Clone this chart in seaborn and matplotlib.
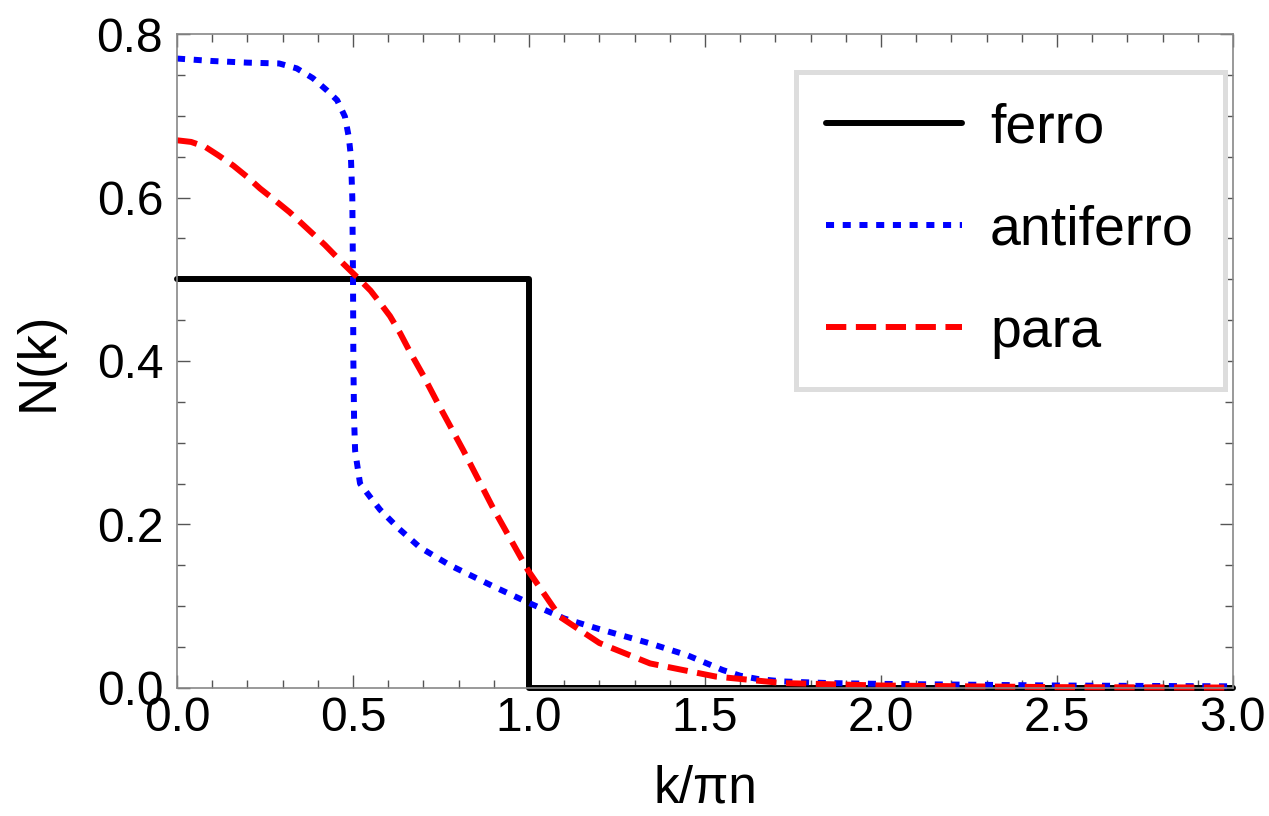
import numpy as np
import pandas as pd
import matplotlib
matplotlib.use("Agg")
import matplotlib.pyplot as plt
from matplotlib.ticker import MultipleLocator, FormatStrFormatter
from matplotlib.lines import Line2D
import seaborn as sns

# ---- data ----
ferro_k = [0.0, 1.0, 1.0, 3.0]
ferro_n = [0.5, 0.5, 0.0, 0.0]

anti_k = [0.0, 0.1, 0.2, 0.29, 0.34, 0.386, 0.426, 0.455, 0.477, 0.488, 0.494, 0.498,
          0.5, 0.501, 0.503, 0.506, 0.52, 0.548, 0.577, 0.63, 0.69, 0.776, 0.9, 1.0,
          1.1, 1.2, 1.34, 1.45, 1.5, 1.55, 1.6, 1.65, 1.72, 1.85, 2.0, 2.5, 3.0]
anti_n = [0.770, 0.767, 0.765, 0.764, 0.758, 0.746, 0.731, 0.719, 0.699, 0.674, 0.650, 0.600,
          0.500, 0.400, 0.330, 0.290, 0.250, 0.234, 0.218, 0.195, 0.172, 0.150, 0.124, 0.104,
          0.085, 0.072, 0.055, 0.040, 0.031, 0.022, 0.015, 0.011, 0.008, 0.006, 0.005, 0.003, 0.002]

para_k = [0.0, 0.04, 0.08, 0.116, 0.16, 0.2, 0.236, 0.28, 0.32, 0.36, 0.42, 0.47, 0.52, 0.55,
          0.577, 0.605, 0.634, 0.662, 0.70, 0.74, 0.813, 0.898, 0.997, 1.088, 1.2, 1.344,
          1.53, 1.72, 2.0, 2.5, 3.0]
para_n = [0.670, 0.668, 0.662, 0.652, 0.639, 0.625, 0.611, 0.596, 0.582, 0.566, 0.542, 0.520,
          0.499, 0.486, 0.471, 0.455, 0.434, 0.411, 0.382, 0.349, 0.291, 0.220, 0.144, 0.087,
          0.055, 0.030, 0.014, 0.006, 0.003, 0.001, 0.0005]

labels = ["ferro", "antiferro", "para"]
xticks = [0.0, 0.5, 1.0, 1.5, 2.0, 2.5, 3.0]
yticks = [0.0, 0.2, 0.4, 0.6, 0.8]

sns.set_style("white")
plt.rcParams['font.family'] = ['Liberation Sans', 'DejaVu Sans']
plt.rcParams['text.color'] = 'black'
plt.rcParams['axes.labelcolor'] = 'black'
plt.rcParams['xtick.color'] = 'black'
plt.rcParams['ytick.color'] = 'black'

fig = plt.figure(figsize=(12.69, 8.16), dpi=100)
ax = fig.add_axes([0.1395, 0.1569, 0.9716 - 0.1395, 0.9583 - 0.1569])

lw = 4.3
dash_blue = (1.35, 1.45)
dash_red = (3.4, 1.6)
sns.lineplot(x=ferro_k, y=ferro_n, ax=ax, color="black", lw=lw, sort=False,
             estimator=None, clip_on=False)
sns.lineplot(x=anti_k, y=anti_n, ax=ax, color="#0000ff", lw=lw, sort=False,
             estimator=None, clip_on=False)
ax.lines[-1].set_dashes(dash_blue)
ax.lines[-1].set_dash_capstyle('butt')
sns.lineplot(x=para_k, y=para_n, ax=ax, color="#ff0000", lw=lw, sort=False,
             estimator=None, clip_on=False)
ax.lines[-1].set_dashes(dash_red)
ax.lines[-1].set_dash_capstyle('butt')

ax.set_xlim(0, 3)
ax.set_ylim(0, 0.8)
ax.set_xticks(xticks)
ax.set_yticks(yticks)
ax.xaxis.set_minor_locator(MultipleLocator(0.1))
ax.yaxis.set_minor_locator(MultipleLocator(0.05))
ax.xaxis.set_major_formatter(FormatStrFormatter('%.1f'))
ax.yaxis.set_major_formatter(FormatStrFormatter('%.1f'))

ax.tick_params(which='both', direction='in', top=True, right=True, bottom=True, left=True,
               color='#555555', labelcolor='black', width=1.0, labelsize=34.5)
ax.tick_params(which='major', length=9.5)
ax.tick_params(which='minor', length=5.5)
ax.tick_params(axis='x', which='major', pad=6)
ax.tick_params(axis='y', which='major', pad=10)

for s in ax.spines.values():
    s.set_color('#888888')
    s.set_linewidth(1.2)
    s.set_visible(True)

ax.set_xlabel("k/πn", fontsize=37, labelpad=17, color='black')
ax.set_ylabel("N(k)", fontsize=38, labelpad=24, color='black')

handles = [Line2D([], [], color="black", lw=lw),
           Line2D([], [], color="#0000ff", lw=lw, dashes=dash_blue, dash_capstyle='butt'),
           Line2D([], [], color="#ff0000", lw=lw, dashes=dash_red, dash_capstyle='butt')]
leg = ax.legend(handles, labels, loc='upper right', bbox_to_anchor=(0.992, 0.942),
                fontsize=40, frameon=True, fancybox=False, handlelength=2.45,
                handletextpad=0.5, labelspacing=0.9, borderpad=0.55, borderaxespad=0)
leg.get_frame().set_edgecolor('#dddddd')
leg.get_frame().set_linewidth(3.6)
leg.get_frame().set_alpha(1)
for t in leg.get_texts():
    t.set_color('black')

fig.savefig("out.png", dpi=100)
